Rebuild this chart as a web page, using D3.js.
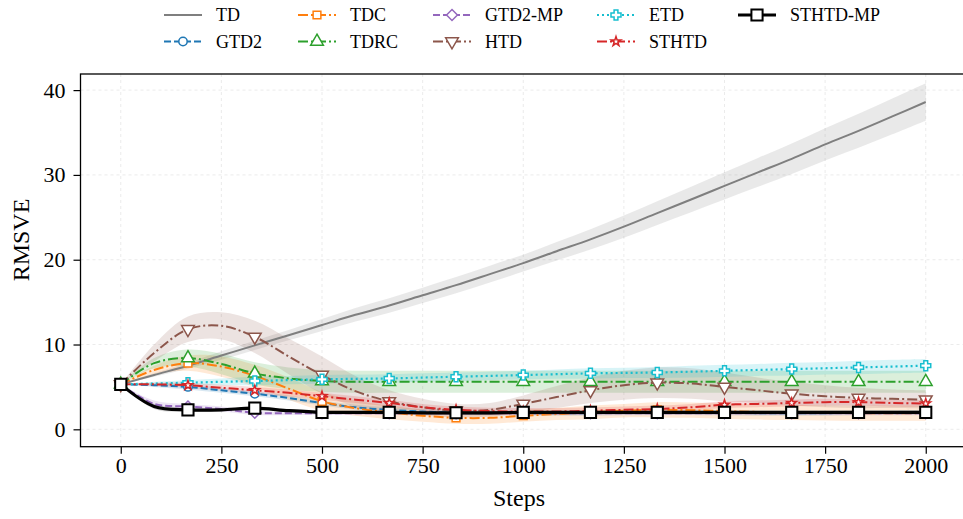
<!DOCTYPE html>
<html>
<head>
<meta charset="utf-8">
<script src="https://cdn.jsdelivr.net/npm/d3@7"></script>
<style>
  body { margin: 0; background: #fff; }
  svg text { font-family: "Liberation Serif", "Times New Roman", serif; }
</style>
</head>
<body>
<svg width="963" height="519"></svg>
<script>
// steps where values were read (markers on every other one)
const steps = [0, 83, 167, 250, 333, 417, 500, 583, 667, 750, 833, 917, 1000,
  1083, 1167, 1250, 1333, 1417, 1500, 1583, 1667, 1750, 1833, 1917, 2000];

const td = [5.3, 6.4, 7.5, 8.7, 9.9, 11.1, 12.3, 13.5, 14.6, 15.8, 17.0, 18.3, 19.6,
  21.0, 22.4, 23.9, 25.5, 27.1, 28.7, 30.3, 31.9, 33.6, 35.2, 36.9, 38.6];
const tdStd = [0, 0.2, 0.35, 0.5, 0.55, 0.6, 0.7, 0.8, 0.85, 0.9, 0.95, 1.0, 1.0,
  1.1, 1.2, 1.3, 1.4, 1.5, 1.6, 1.7, 1.8, 1.9, 2.0, 2.1, 2.2];

const gtd2 = [5.3, 5.2, 5.0, 4.6, 4.2, 3.7, 3.1, 2.6, 2.3, 2.1, 2.0, 1.95, 1.9,
  1.9, 1.9, 1.95, 2.0, 2.0, 1.95, 1.9, 1.9, 1.9, 1.95, 1.95, 2.0];
const gtd2Std = [0, 0.2, 0.3, 0.3, 0.3, 0.3, 0.3, 0.3, 0.3, 0.3, 0.3, 0.3, 0.3,
  0.3, 0.3, 0.3, 0.3, 0.3, 0.3, 0.3, 0.3, 0.3, 0.3, 0.3, 0.3];

const tdc = [5.3, 7.0, 7.8, 7.4, 6.3, 4.8, 3.3, 2.5, 2.0, 1.6, 1.35, 1.35, 1.6,
  1.8, 2.0, 2.2, 2.3, 2.25, 2.15, 2.05, 2.0, 1.95, 1.9, 1.9, 1.9];
const tdcStd = [0, 0.5, 0.9, 1.2, 1.3, 1.3, 1.1, 0.9, 0.8, 0.7, 0.7, 0.7, 0.7,
  0.7, 0.8, 0.8, 0.9, 0.9, 0.9, 0.9, 0.9, 0.9, 0.9, 0.9, 0.9];

const tdrc = [5.3, 7.8, 8.4, 7.7, 6.6, 6.0, 5.7, 5.6, 5.6, 5.6, 5.6, 5.6, 5.6,
  5.6, 5.6, 5.6, 5.6, 5.6, 5.6, 5.6, 5.6, 5.6, 5.6, 5.6, 5.6];
const tdrcStd = [0, 0.6, 1.0, 1.2, 1.3, 1.3, 1.3, 1.3, 1.3, 1.3, 1.3, 1.3, 1.3,
  1.3, 1.3, 1.3, 1.3, 1.3, 1.3, 1.3, 1.3, 1.3, 1.3, 1.3, 1.3];

const gtd2mp = [5.3, 3.0, 2.7, 2.4, 1.95, 1.9, 1.9, 1.9, 1.9, 1.9, 1.9, 1.9, 1.9,
  1.9, 1.9, 1.9, 1.9, 1.9, 1.9, 1.9, 1.9, 1.9, 1.9, 1.9, 1.9];
const gtd2mpStd = [0, 0.4, 0.3, 0.3, 0.25, 0.2, 0.2, 0.2, 0.2, 0.2, 0.2, 0.2, 0.2,
  0.2, 0.2, 0.2, 0.2, 0.2, 0.2, 0.2, 0.2, 0.2, 0.2, 0.2, 0.2];

const htd = [5.3, 9.0, 11.8, 12.2, 10.9, 8.6, 6.4, 4.5, 3.3, 2.6, 2.2, 2.3, 3.0,
  3.8, 4.6, 5.2, 5.5, 5.4, 5.0, 4.6, 4.2, 3.9, 3.7, 3.6, 3.5];
const htdStd = [0, 1.0, 1.5, 1.6, 1.9, 2.1, 2.2, 1.8, 1.3, 1.0, 0.8, 0.8, 1.0,
  1.3, 1.5, 1.7, 1.8, 1.8, 1.7, 1.5, 1.4, 1.3, 1.2, 1.1, 1.1];

const etd = [5.3, 5.4, 5.5, 5.6, 5.7, 5.8, 5.9, 5.95, 6.0, 6.1, 6.2, 6.3, 6.4,
  6.5, 6.6, 6.65, 6.7, 6.8, 6.9, 7.0, 7.1, 7.2, 7.3, 7.4, 7.5];
const etdStd = [0, 0.2, 0.3, 0.4, 0.5, 0.5, 0.5, 0.5, 0.5, 0.5, 0.5, 0.5, 0.5,
  0.55, 0.6, 0.6, 0.65, 0.7, 0.7, 0.7, 0.75, 0.75, 0.8, 0.8, 0.8];

const sthtd = [5.3, 5.3, 5.2, 4.9, 4.6, 4.3, 3.9, 3.5, 3.1, 2.6, 2.3, 2.15, 2.1,
  2.1, 2.2, 2.3, 2.4, 2.6, 2.9, 3.0, 3.1, 3.2, 3.2, 3.1, 3.05];
const sthtdStd = [0, 0.2, 0.3, 0.35, 0.4, 0.4, 0.4, 0.4, 0.4, 0.4, 0.4, 0.4, 0.4,
  0.4, 0.4, 0.4, 0.4, 0.4, 0.4, 0.4, 0.4, 0.4, 0.4, 0.4, 0.4];

const sthtdmp = [5.3, 2.7, 2.3, 2.3, 2.5, 2.2, 2.0, 2.0, 2.0, 1.95, 1.95, 1.95, 2.0,
  2.0, 2.0, 2.0, 2.0, 2.0, 2.0, 2.0, 2.0, 2.0, 2.0, 2.0, 2.0];
const sthtdmpStd = [0, 0.3, 0.2, 0.2, 0.2, 0.2, 0.2, 0.2, 0.2, 0.2, 0.2, 0.2, 0.2,
  0.2, 0.2, 0.2, 0.2, 0.2, 0.2, 0.2, 0.2, 0.2, 0.2, 0.2, 0.2];

const xTicks = [0, 250, 500, 750, 1000, 1250, 1500, 1750, 2000];
const yTicks = [0, 10, 20, 30, 40];

const serif = '"Liberation Serif", "Times New Roman", serif';

// marker shapes
const plusPath = (r) => {
  const a = r * 0.38;
  return `M${-a},${-r}H${a}V${-a}H${r}V${a}H${a}V${r}H${-a}V${a}H${-r}V${-a}H${-a}Z`;
};
const sym = (type, size) => d3.symbol().type(type).size(size)();

const series = [
  { name: 'TD', mean: td, std: tdStd, color: '#7f7f7f', dash: null, width: 2, marker: null },
  { name: 'GTD2', mean: gtd2, std: gtd2Std, color: '#1f77b4', dash: '7,3', width: 2,
    marker: sym(d3.symbolCircle, 55) },
  { name: 'TDC', mean: tdc, std: tdcStd, color: '#ff7f0e', dash: '10,3,2,3', width: 2,
    marker: sym(d3.symbolSquare, 60) },
  { name: 'TDRC', mean: tdrc, std: tdrcStd, color: '#2ca02c', dash: '10,3,2,3', width: 2,
    marker: sym(d3.symbolTriangle, 70) },
  { name: 'GTD2-MP', mean: gtd2mp, std: gtd2mpStd, color: '#9467bd', dash: '7,3', width: 2,
    marker: sym(d3.symbolDiamond2, 75) },
  { name: 'HTD', mean: htd, std: htdStd, color: '#8c564b', dash: '10,3,2,3', width: 2,
    marker: sym(d3.symbolTriangle, 70), rotate: 180 },
  { name: 'ETD', mean: etd, std: etdStd, color: '#17becf', dash: '2,3', width: 2.2,
    marker: plusPath(5) },
  { name: 'STHTD', mean: sthtd, std: sthtdStd, color: '#d62728', dash: '10,3,2,3', width: 2,
    marker: sym(d3.symbolStar, 28) },
  { name: 'STHTD-MP', mean: sthtdmp, std: sthtdmpStd, color: '#000000', dash: null, width: 3.2,
    marker: sym(d3.symbolSquare, 125), markerStroke: 2 }
];

const svg = d3.select('svg');
svg.append('rect').attr('width', 963).attr('height', 519).attr('fill', '#fff');

const mLeft = 80.5, mRight = 966, mTop = 74, mBottom = 446.7;

const x = d3.scaleLinear().domain([-100, 2100]).range([mLeft, mRight]);
const y = d3.scaleLinear().domain([-2.05, 41.9]).range([mBottom, mTop]);

const plot = svg.append('g');

// grid
plot.selectAll(null).data(xTicks).join('line')
  .attr('x1', d => x(d)).attr('x2', d => x(d))
  .attr('y1', mTop).attr('y2', mBottom)
  .attr('stroke', '#e6e6e6').attr('stroke-width', 0.8).attr('stroke-dasharray', '3,3');
plot.selectAll(null).data(yTicks).join('line')
  .attr('x1', mLeft).attr('x2', mRight)
  .attr('y1', d => y(d)).attr('y2', d => y(d))
  .attr('stroke', '#e6e6e6').attr('stroke-width', 0.8).attr('stroke-dasharray', '3,3');

const line = d3.line()
  .x((d, i) => x(steps[i]))
  .y(d => y(d))
  .curve(d3.curveCatmullRom.alpha(0.5));

const area = d3.area()
  .x((d, i) => x(steps[i]))
  .y0(d => y(d[0] - d[1]))
  .y1(d => y(d[0] + d[1]))
  .curve(d3.curveCatmullRom.alpha(0.5));

// bands
series.forEach(s => {
  plot.append('path')
    .datum(s.mean.map((m, i) => [m, s.std[i]]))
    .attr('d', area)
    .attr('fill', s.color)
    .attr('fill-opacity', 0.17)
    .attr('stroke', 'none');
});

// lines and markers
series.forEach(s => {
  plot.append('path')
    .datum(s.mean)
    .attr('d', line)
    .attr('fill', 'none')
    .attr('stroke', s.color)
    .attr('stroke-width', s.width)
    .attr('stroke-dasharray', s.dash);

  if (s.marker) {
    const pts = s.mean.map((m, i) => [steps[i], m]).filter((p, i) => i % 2 === 0);
    plot.selectAll(null).data(pts).join('path')
      .attr('d', s.marker)
      .attr('transform', d => `translate(${x(d[0])},${y(d[1])}) rotate(${s.rotate || 0})`)
      .attr('fill', '#fff')
      .attr('stroke', s.color)
      .attr('stroke-width', s.markerStroke || 1.5);
  }
});

// frame
svg.append('rect')
  .attr('x', mLeft).attr('y', mTop)
  .attr('width', mRight - mLeft).attr('height', mBottom - mTop)
  .attr('fill', 'none').attr('stroke', '#000').attr('stroke-width', 1.3);

// axes
const xAxis = svg.append('g')
  .attr('transform', `translate(0,${mBottom})`)
  .call(d3.axisBottom(x).tickValues(xTicks).tickFormat(d3.format('d'))
    .tickSize(7).tickPadding(4).tickSizeOuter(0));
const yAxis = svg.append('g')
  .attr('transform', `translate(${mLeft},0)`)
  .call(d3.axisLeft(y).tickValues(yTicks).tickFormat(d3.format('d'))
    .tickSize(7).tickPadding(8).tickSizeOuter(0));

[xAxis, yAxis].forEach(a => {
  a.attr('font-family', serif).attr('font-size', 22);
  a.select('.domain').remove();
  a.selectAll('.tick line').attr('stroke', '#000').attr('stroke-width', 1.2);
  a.selectAll('.tick text').attr('fill', '#000');
});

svg.append('text')
  .attr('x', 519).attr('y', 506)
  .attr('text-anchor', 'middle')
  .attr('font-family', serif)
  .attr('font-size', 24)
  .text('Steps');

svg.append('text')
  .attr('transform', `translate(29,240) rotate(-90)`)
  .attr('text-anchor', 'middle')
  .attr('font-family', serif)
  .attr('font-size', 24)
  .text('RMSVE');

// legend
const legCols = [164, 298, 433, 597, 738];
const legRows = [15, 41.5];
const legOrder = ['TD', 'GTD2', 'TDC', 'TDRC', 'GTD2-MP', 'HTD', 'ETD', 'STHTD', 'STHTD-MP'];

legOrder.forEach((name, k) => {
  const s = series.find(d => d.name === name);
  const lx = legCols[Math.floor(k / 2)];
  const ly = legRows[k % 2];
  const g = svg.append('g');
  g.append('line')
    .attr('x1', lx).attr('x2', lx + 38)
    .attr('y1', ly).attr('y2', ly)
    .attr('stroke', s.color)
    .attr('stroke-width', s.width)
    .attr('stroke-dasharray', s.dash);
  if (s.marker) {
    g.append('path')
      .attr('d', s.marker)
      .attr('transform', `translate(${lx + 19},${ly}) rotate(${s.rotate || 0})`)
      .attr('fill', '#fff')
      .attr('stroke', s.color)
      .attr('stroke-width', s.markerStroke || 1.5);
  }
  g.append('text')
    .attr('x', lx + 52).attr('y', ly)
    .attr('dy', '0.35em')
    .attr('font-family', serif)
    .attr('font-size', 18)
    .text(name);
});
</script>
</body>
</html>
